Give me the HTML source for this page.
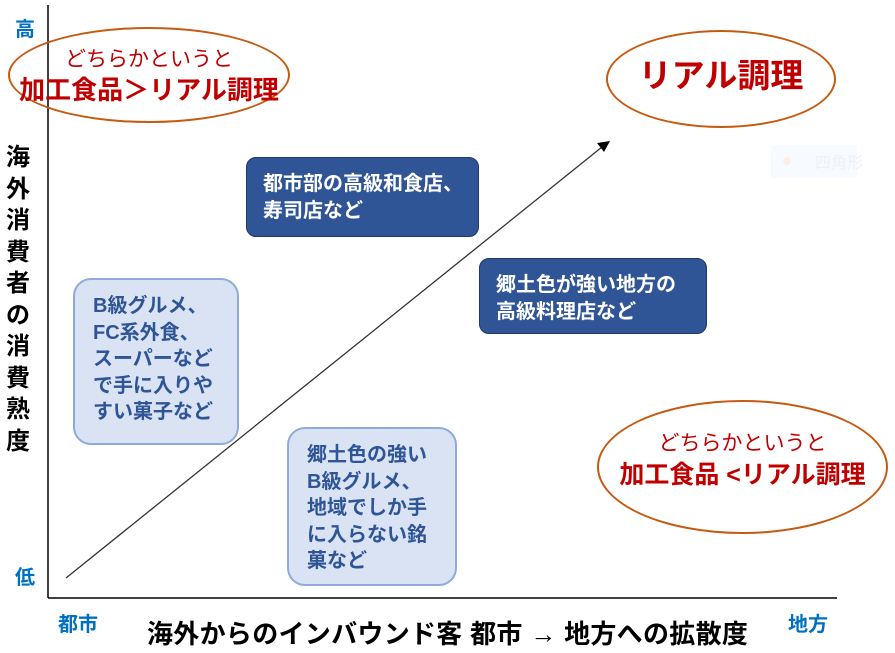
<!DOCTYPE html>
<html><head><meta charset="utf-8"><style>
body{margin:0;width:895px;height:653px;background:#fff;position:relative;overflow:hidden;font-family:"Liberation Sans","Noto Sans CJK JP",sans-serif;}
.a{position:absolute;white-space:nowrap;}
.blue{color:#0070C0;font-weight:bold;font-size:20px;}
.ell{position:absolute;border:2px solid #C55A11;border-radius:50%;box-sizing:border-box;text-align:center;color:#C00000;}
.dk{position:absolute;background:#2F5597;border:1px solid #1F3864;border-radius:10px;color:#fff;font-weight:bold;font-size:20px;line-height:27px;box-sizing:border-box;padding:13px 0 0 16px;}
.lt{position:absolute;background:#DAE3F3;border:2px solid #8FAADC;border-radius:18px;color:#2F5597;font-weight:bold;font-size:20px;line-height:26.5px;box-sizing:border-box;padding:13px 0 0 18px;}
</style></head><body>
<svg class="a" style="left:0;top:0" width="895" height="653">
<line x1="48" y1="5" x2="48" y2="598" stroke="#000" stroke-width="1.5"/>
<line x1="48" y1="598" x2="837" y2="598" stroke="#000" stroke-width="1.5"/>
<line x1="66" y1="578" x2="602" y2="147" stroke="#333" stroke-width="1.3"/>
<polygon points="610,141 597,143 604,152" fill="#000"/>
<rect x="771" y="145" width="86" height="33" fill="#f7fbff"/>
<circle cx="787" cy="161" r="4" fill="#fbeee4"/>
<text x="815" y="168" font-size="16" fill="#eef0f3" font-family="Noto Sans CJK JP">四角形</text>
</svg>
<div class="a blue" style="left:15px;top:13px">高</div>
<div class="a blue" style="left:15px;top:561px">低</div>
<div class="a blue" style="left:58px;top:608px">都市</div>
<div class="a blue" style="left:788px;top:608px">地方</div>
<div class="a" style="left:4px;top:142px;width:28px;font-size:24px;font-weight:bold;line-height:31.5px;white-space:normal;text-align:center">海外消費者の消費熟度</div>
<div class="a" style="left:147px;top:614px;font-size:26px;font-weight:bold;letter-spacing:0.3px">海外からのインバウンド客 都市 → 地方への拡散度</div>
<div class="ell" style="left:8px;top:27px;width:282px;height:96px;padding-top:17px;">
<div style="font-size:21px;line-height:27px">どちらかというと</div>
<div style="font-size:26px;font-weight:bold;line-height:34px;margin-left:-8px;margin-right:-8px">加工食品＞リアル調理</div></div>
<div class="ell" style="left:606px;top:30px;width:230px;height:98px;padding-top:24px;">
<div style="font-size:33px;font-weight:bold;line-height:40px">リアル調理</div></div>
<div class="ell" style="left:597px;top:400px;width:291px;height:134px;padding-top:28px;">
<div style="font-size:21px;line-height:27px">どちらかというと</div>
<div style="font-size:25px;font-weight:bold;line-height:36px;margin-left:-8px;margin-right:-8px">加工食品 &lt;リアル調理</div></div>
<div class="dk" style="left:246px;top:157px;width:233px;height:80px">都市部の高級和食店、<br>寿司店など</div>
<div class="dk" style="left:479px;top:258px;width:228px;height:76px">郷土色が強い地方の<br>高級料理店など</div>
<div class="lt" style="left:73px;top:278px;width:166px;height:167px">B級グルメ、<br>FC系外食、<br>スーパーなど<br>で手に入りや<br>すい菓子など</div>
<div class="lt" style="left:287px;top:427px;width:170px;height:159px">郷土色の強い<br>B級グルメ、<br>地域でしか手<br>に入らない銘<br>菓など</div>
</body></html>
